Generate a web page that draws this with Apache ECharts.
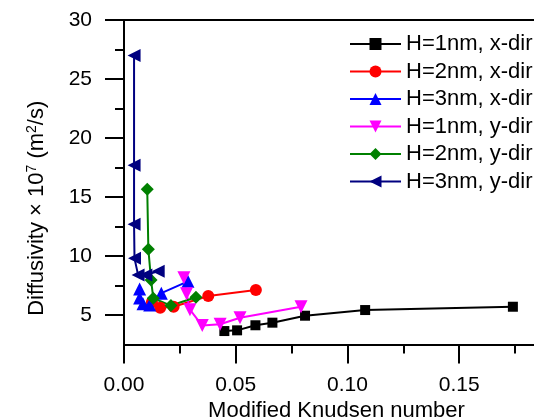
<!DOCTYPE html>
<html>
<head>
<meta charset="utf-8">
<script src="https://cdn.jsdelivr.net/npm/echarts@6/dist/echarts.min.js"></script>
<style>
  html, body { margin: 0; padding: 0; background: #fff; }
  #chart { width: 534px; height: 419px; }
</style>
</head>
<body>
<div id="chart"></div>
<script>
// Modified Knudsen number (x) vs diffusivity ×10^7 m²/s (y)
const names = ['H=1nm, x-dir', 'H=2nm, x-dir', 'H=3nm, x-dir', 'H=1nm, y-dir', 'H=2nm, y-dir', 'H=3nm, y-dir'];

const h1xKn = [0.0449, 0.0506, 0.0588, 0.0664, 0.0810, 0.1079, 0.1740];
const h1xD  = [3.64, 3.70, 4.13, 4.35, 4.94, 5.42, 5.70];

const h2xKn = [0.0125, 0.0162, 0.0222, 0.0377, 0.0590];
const h2xD  = [6.10, 5.62, 5.70, 6.61, 7.12];

const h3xKn = [0.0070, 0.0070, 0.0085, 0.0115, 0.0167, 0.0286];
const h3xD  = [7.20, 6.45, 5.95, 5.85, 6.85, 7.85];

const h1yKn = [0.0268, 0.0280, 0.0295, 0.0350, 0.0430, 0.0519, 0.0792];
const h1yD  = [8.16, 6.80, 5.45, 4.10, 4.21, 4.77, 5.70];

const h2yKn = [0.0104, 0.0109, 0.0121, 0.0131, 0.0210, 0.0322];
const h2yD  = [15.65, 10.57, 7.97, 6.42, 5.80, 6.50];

const h3yKn = [0.0045, 0.0045, 0.0045, 0.0047, 0.0063, 0.0098, 0.0153];
const h3yD  = [27.0, 17.7, 12.7, 9.8, 8.4, 8.4, 8.7];

const yMajor = [5, 10, 15, 20, 25, 30];
const yMinor = [7.5, 12.5, 17.5, 22.5, 27.5];

const FONT = 'Liberation Sans, Arial, sans-serif';

function pairs(xs, ys) { return xs.map((x, i) => [x, ys[i]]); }

const styles = [
  { color: '#000000', symbol: 'rect',     size: 10, rot: 0 },
  { color: '#ff0000', symbol: 'circle',   size: 12, rot: 0 },
  { color: '#0000ff', symbol: 'triangle', size: 13, rot: 0 },
  { color: '#ff00ff', symbol: 'triangle', size: 13, rot: 180 },
  { color: '#008000', symbol: 'diamond',  size: 13, rot: 0 },
  { color: '#000080', symbol: 'triangle', size: 13, rot: 90 }
];
const sets = [
  pairs(h1xKn, h1xD), pairs(h2xKn, h2xD), pairs(h3xKn, h3xD),
  pairs(h1yKn, h1yD), pairs(h2yKn, h2yD), pairs(h3yKn, h3yD)
];

const chart = echarts.init(document.getElementById('chart'), null, { renderer: 'canvas' });

chart.setOption({
  animation: false,
  backgroundColor: '#ffffff',
  textStyle: { fontFamily: FONT },
  grid: { left: 124, top: 20, right: -37, bottom: 74.5, containLabel: false, outerBoundsMode: 'none' },
  legend: {
    orient: 'vertical',
    left: 344,
    top: 28,
    itemWidth: 51,
    itemHeight: 15,
    itemGap: 5.5,
    data: names,
    textStyle: { fontFamily: FONT, fontSize: 22, color: '#000', lineHeight: 22 }
  },
  xAxis: [{
    type: 'value',
    min: 0, max: 0.2, interval: 0.05,
    name: 'Modified Knudsen number',
    nameLocation: 'middle',
    nameGap: 52,
    nameTextStyle: { fontFamily: FONT, fontSize: 22, color: '#000', padding: [0, 22, 0, 0] },
    axisLine: { show: true, lineStyle: { color: '#000', width: 2 } },
    axisTick: { show: true, inside: false, length: 19, lineStyle: { color: '#000', width: 2 } },
    minorTick: { show: true, splitNumber: 2, length: 9, lineStyle: { color: '#000', width: 2 } },
    axisLabel: { fontFamily: FONT, fontSize: 21, color: '#000', margin: 30,
                 formatter: v => v.toFixed(2) },
    splitLine: { show: false }
  }, {
    type: 'value', position: 'top',
    min: 0, max: 0.2,
    axisLine: { show: true, lineStyle: { color: '#000', width: 2 } },
    axisTick: { show: false }, axisLabel: { show: false }, splitLine: { show: false }
  }],
  yAxis: [{
    type: 'value',
    min: 2.5, max: 30,
    name: 'Diffusivity × 10{sup|7} (m{sup|2}/s)',
    nameLocation: 'middle',
    nameGap: 75,
    nameRotate: 90,
    nameTextStyle: {
      fontFamily: FONT, fontSize: 22, color: '#000', padding: [0, 52, 0, 0],
      rich: { sup: { fontFamily: FONT, fontSize: 14, color: '#000', verticalAlign: 'top', padding: [0, 0, 10, 0] } }
    },
    axisLine: { show: true, lineStyle: { color: '#000', width: 2 } },
    axisTick: { show: true, inside: false, length: 19, customValues: yMajor, lineStyle: { color: '#000', width: 2 } },
    axisLabel: { fontFamily: FONT, fontSize: 21, color: '#000', margin: 32, customValues: yMajor },
    splitLine: { show: false }
  }, {
    type: 'value', position: 'left',
    min: 2.5, max: 30,
    axisLine: { show: false },
    axisTick: { show: true, inside: false, length: 9, customValues: yMinor, lineStyle: { color: '#000', width: 2 } },
    axisLabel: { show: false },
    splitLine: { show: false }
  }],
  series: names.map((n, i) => ({
    name: n,
    type: 'line',
    xAxisIndex: 0, yAxisIndex: 0,
    data: sets[i],
    symbol: styles[i].symbol,
    symbolSize: styles[i].size,
    symbolRotate: styles[i].rot,
    showAllSymbol: true,
    color: styles[i].color,
    lineStyle: { color: styles[i].color, width: 2 },
    itemStyle: { color: styles[i].color },
    clip: false
  }))
});
</script>
</body>
</html>
